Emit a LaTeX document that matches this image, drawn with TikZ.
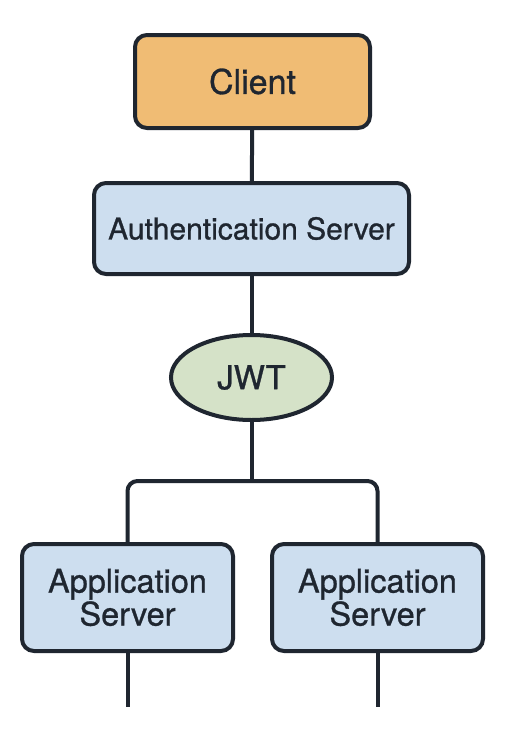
\documentclass[tikz,border=0pt]{standalone}
\usepackage{fontspec}
\setmainfont{TeX Gyre Heros}[BoldFont={TeX Gyre Heros}, BoldFeatures={FakeBold=0.9}]
\usepackage{tikz}
\usetikzlibrary{positioning, shapes.geometric}

\definecolor{clientfill}{HTML}{F0BC74}
\definecolor{serverfill}{HTML}{CDDEEF}
\definecolor{tokenfill}{HTML}{D5E2C8}
\definecolor{edge}{HTML}{1F2630}

\begin{document}
\begin{tikzpicture}[
    x=1pt, y=-1pt,
    box/.style={draw=edge, line width=4pt, rounded corners=12pt, align=center, inner sep=0pt, text=edge},
    link/.style={draw=edge, line width=4pt}
]
\useasboundingbox[fill=white] (0,0) rectangle (508,750);
\node[box, fill=clientfill, minimum width=235pt, minimum height=93pt, font=\fontsize{34}{40}\selectfont\bfseries] (client) at (252.5,81.5) {Client};
\node[box, fill=serverfill, minimum width=315pt, minimum height=91pt, font=\fontsize{30}{34}\selectfont\bfseries] (auth) at (251.5,228.5) {Authentication Server};
\node[ellipse, draw=edge, line width=4pt, fill=tokenfill, inner sep=0pt, minimum width=161pt, minimum height=85pt, text=edge, font=\fontsize{33}{40}\selectfont\bfseries] (jwt) at (251.5,377.5) {JWT};
\node[box, fill=serverfill, minimum width=211pt, minimum height=107pt, font=\fontsize{32.5}{33}\selectfont\bfseries] (appA) at (127.5,597.5) {Application\\Server};
\node[box, fill=serverfill, minimum width=211pt, minimum height=107pt, font=\fontsize{32.5}{33}\selectfont\bfseries] (appB) at (377.5,597.5) {Application\\Server};
\coordinate (split) at (251.5,481);
\coordinate (endA) at (127.5,707);
\coordinate (endB) at (377.5,707);
\draw[link] (client) -- (auth);
\draw[link] (auth) -- (jwt);
\draw[link] (jwt) -- (split);
\draw[link, rounded corners=10pt] (appA.north) |- (split) -| (appB.north);
\draw[link] (appA) -- (endA);
\draw[link] (appB) -- (endB);
\end{tikzpicture}
\end{document}
